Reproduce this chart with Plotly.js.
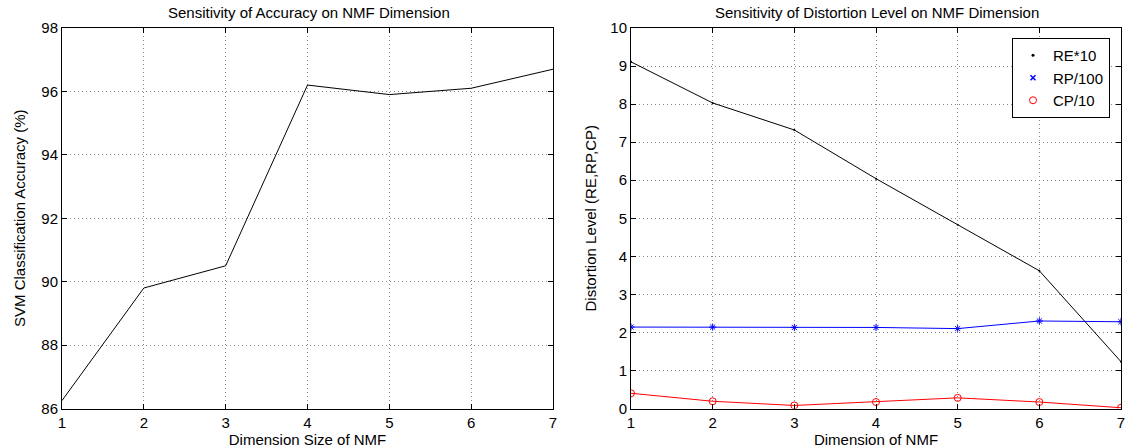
<!DOCTYPE html>
<html>
<head>
<meta charset="utf-8">
<script src="https://cdn.plot.ly/plotly-3.0.1.min.js"></script>
<style>html,body{margin:0;padding:0;background:#fff;}#chart{width:1128px;height:448px;}</style>
</head>
<body>
<div id="chart"></div>
<script>
const dims = [1, 2, 3, 4, 5, 6, 7];
const accuracy = [86.25, 89.8, 90.5, 96.2, 95.9, 96.1, 96.7];
const re10 = [9.11, 8.03, 7.32, 6.04, 4.83, 3.62, 1.23];
const rp100 = [2.14, 2.14, 2.13, 2.13, 2.10, 2.30, 2.28];
const cp10 = [0.40, 0.19, 0.08, 0.17, 0.28, 0.17, 0.02];
const seriesNames = ['RE*10', 'RP/100', 'CP/10'];

const F = 'Liberation Sans, Arial, sans-serif';
const FS = 15;
const axBase = {
  showline: true, linecolor: '#000', linewidth: 1, mirror: 'allticks',
  ticks: 'inside', ticklen: 5, tickcolor: '#000',
  showgrid: true, gridcolor: '#888', griddash: '1px,3px', gridwidth: 1,
  zeroline: false, tickfont: {family: F, size: FS, color: '#000'}
};

const traces = [
  {x: dims, y: accuracy, xaxis: 'x', yaxis: 'y', mode: 'lines',
   line: {color: '#000', width: 1}, showlegend: false},
  {x: dims, y: re10, xaxis: 'x2', yaxis: 'y2', mode: 'lines+markers', showlegend: false,
   line: {color: '#000', width: 1}, marker: {color: '#000', size: 2, symbol: 'circle'}},
  {x: dims, y: rp100, xaxis: 'x2', yaxis: 'y2', mode: 'lines+markers', showlegend: false,
   line: {color: '#0000ff', width: 1}, marker: {color: '#0000ff', size: 6, symbol: 'asterisk-open', line: {color: '#0000ff', width: 1}}},
  {x: dims, y: cp10, xaxis: 'x2', yaxis: 'y2', mode: 'lines+markers', showlegend: false,
   line: {color: '#ff0000', width: 1}, marker: {color: '#ff0000', size: 7, symbol: 'circle-open', line: {color: '#ff0000', width: 1}}},
  // legend entries (markers only, as in the reference legend)
  {x: [null], y: [null], xaxis: 'x2', yaxis: 'y2', mode: 'markers', name: seriesNames[0],
   marker: {color: '#000', size: 3, symbol: 'circle'}},
  {x: [null], y: [null], xaxis: 'x2', yaxis: 'y2', mode: 'markers', name: seriesNames[1],
   marker: {color: '#0000ff', size: 5, symbol: 'x-thin-open', line: {color: '#0000ff', width: 1.5}}},
  {x: [null], y: [null], xaxis: 'x2', yaxis: 'y2', mode: 'markers', name: seriesNames[2],
   marker: {color: '#ff0000', size: 7, symbol: 'circle-open', line: {color: '#ff0000', width: 1}}}
];

const yd = [1 - 408.5/448, 1 - 28/448];
const layout = {
  width: 1128, height: 448,
  margin: {l: 0, r: 0, t: 0, b: 0},
  paper_bgcolor: '#fff', plot_bgcolor: '#fff',
  font: {family: F, size: FS, color: '#000'},
  xaxis: Object.assign({}, axBase, {domain: [62/1128, 553/1128], range: [1, 7], tickvals: dims, anchor: 'y',
    title: {text: 'Dimension Size of NMF', font: {family: F, size: FS}, standoff: 0}}),
  yaxis: Object.assign({}, axBase, {domain: yd, range: [86, 98], dtick: 2, anchor: 'x',
    title: {text: 'SVM Classification Accuracy (%)', font: {family: F, size: FS}, standoff: 12}}),
  xaxis2: Object.assign({}, axBase, {domain: [631/1128, 1121/1128], range: [1, 7], tickvals: dims, anchor: 'y2',
    title: {text: 'Dimension of NMF', font: {family: F, size: FS}, standoff: 0}}),
  yaxis2: Object.assign({}, axBase, {domain: yd, range: [0, 10], dtick: 1, anchor: 'x2',
    title: {text: 'Distortion Level (RE,RP,CP)', font: {family: F, size: FS}, standoff: 10}}),
  legend: {x: 1110/1128, xanchor: 'right', y: 1 - 38/448, yanchor: 'top',
    bgcolor: '#fff', bordercolor: '#000', borderwidth: 1,
    font: {family: F, size: FS}, tracegroupgap: 0, itemwidth: 30},
  annotations: [
    {text: 'Sensitivity of Accuracy on NMF Dimension', xref: 'paper', yref: 'paper',
     x: 309/1128, y: 1 - 12/448, xanchor: 'center', yanchor: 'middle', showarrow: false,
     font: {family: F, size: FS}},
    {text: 'Sensitivity of Distortion Level on NMF Dimension', xref: 'paper', yref: 'paper',
     x: 877/1128, y: 1 - 12/448, xanchor: 'center', yanchor: 'middle', showarrow: false,
     font: {family: F, size: FS}}
  ]
};

Plotly.newPlot('chart', traces, layout, {displayModeBar: false, staticPlot: true});
</script>
</body>
</html>
